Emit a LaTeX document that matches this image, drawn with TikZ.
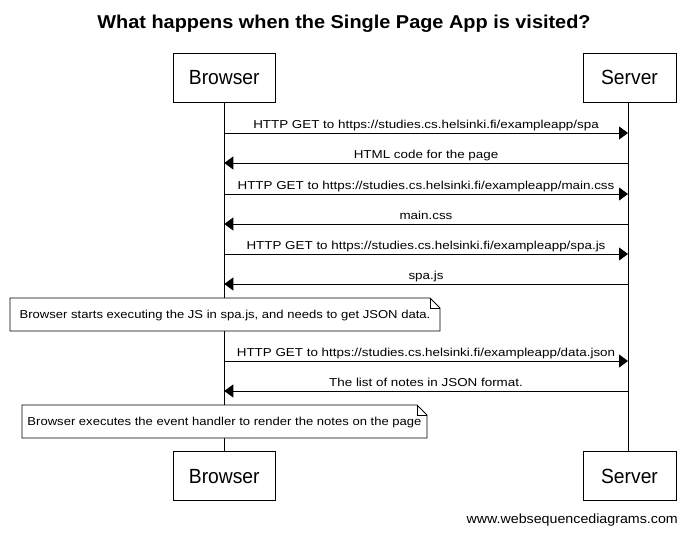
\documentclass[tikz,border=0pt]{standalone}
\usepackage{fontspec}
\setmainfont{Liberation Sans}
\newfontfamily\msgfont[FakeStretch=1.165]{Liberation Sans}
\newfontfamily\notefont[FakeStretch=1.135]{Liberation Sans}
\newfontfamily\actorfont[FakeStretch=0.94]{Liberation Sans}
\newfontfamily\titlefont[FakeStretch=1.07]{Liberation Sans}
\newfontfamily\footfont[FakeStretch=1.07]{Liberation Sans}
\usetikzlibrary{arrows.meta}
\tikzset{
  actor/.style={draw, line width=0.9pt, fill=white, minimum height=49pt, inner sep=0pt},
  actorlabel/.style={anchor=base, inner sep=0pt, font=\actorfont\fontsize{20.5}{22}\selectfont},
  lifeline/.style={line width=0.9pt},
  msg/.style={line width=0.9pt, -{Triangle[length=9pt,width=13pt]}},
  msglabel/.style={anchor=base, inner sep=0pt, font=\msgfont\fontsize{11.5}{14}\selectfont},
  notetext/.style={anchor=base, inner sep=0pt, font=\notefont\fontsize{11.5}{14}\selectfont},
  notebox/.style={draw, line width=0.9pt, fill=white},
}
\begin{document}
\begin{tikzpicture}[x=1pt,y=-1pt]
\useasboundingbox (0,0) rectangle (687,534);
% title
\node[anchor=base, inner sep=0pt, font=\titlefont\bfseries\fontsize{18.6}{22}\selectfont] (title) at (344,28.3) {What happens when the Single Page App is visited?};
% participants
\node[actor, minimum width=102pt] (b1) at (224.3,77.5) {};
\node[actorlabel] (b1t) at (224.3,84.8) {Browser};
\node[actor, minimum width=93pt] (s1) at (629.5,77.5) {};
\node[actorlabel] (s1t) at (629.5,84.8) {Server};
\node[actor, minimum width=102pt] (b2) at (224.3,476) {};
\node[actorlabel] (b2t) at (224.3,483.3) {Browser};
\node[actor, minimum width=93pt] (s2) at (629.5,476) {};
\node[actorlabel] (s2t) at (629.5,483.3) {Server};
% lifelines
\draw[lifeline] (b1) -- (b2);
\draw[lifeline] (s1.south -| 628,0) coordinate (sl1) -- (s2.north -| 628,0) coordinate (sl2);
% messages
\foreach \i/\y in {1/133,2/163,3/194,4/224,5/254,6/284,7/361,8/391}{
  \coordinate (mb\i) at (224.3,\y);
  \coordinate (ms\i) at (628,\y);
}
\draw[msg] (mb1) -- (ms1);
\node[msglabel] (l1) at (426,128.5) {HTTP GET to https://studies.cs.helsinki.fi/exampleapp/spa};
\draw[msg] (ms2) -- (mb2);
\node[msglabel] (l2) at (426,158.5) {HTML code for the page};
\draw[msg] (mb3) -- (ms3);
\node[msglabel] (l3) at (426,189.5) {HTTP GET to https://studies.cs.helsinki.fi/exampleapp/main.css};
\draw[msg] (ms4) -- (mb4);
\node[msglabel] (l4) at (426,219.5) {main.css};
\draw[msg] (mb5) -- (ms5);
\node[msglabel] (l5) at (426,249.5) {HTTP GET to https://studies.cs.helsinki.fi/exampleapp/spa.js};
\draw[msg] (ms6) -- (mb6);
\node[msglabel] (l6) at (426,279.5) {spa.js};
\draw[msg] (mb7) -- (ms7);
\node[msglabel] (l7) at (426,356.5) {HTTP GET to https://studies.cs.helsinki.fi/exampleapp/data.json};
\draw[msg] (ms8) -- (mb8);
\node[msglabel] (l8) at (426,386.5) {The list of notes in JSON format.};
% notes
\draw[notebox] (10,298) -- (430,298) -- (440,308) -- (440,331) -- (10,331) -- cycle;
\draw[line width=0.9pt] (430,298) -- (430,308) -- (440,308);
\node[notetext] (n1) at (225,318.3) {Browser starts executing the JS in spa.js, and needs to get JSON data.};
\draw[notebox] (22,405) -- (417,405) -- (427,415) -- (427,438) -- (22,438) -- cycle;
\draw[line width=0.9pt] (417,405) -- (417,415) -- (427,415);
\node[notetext] (n2) at (224.5,425.3) {Browser executes the event handler to render the notes on the page};
% footer
\node[anchor=base east, inner sep=0pt, font=\footfont\fontsize{13.3}{15}\selectfont] (footer) at (678,523) {www.websequencediagrams.com};
\end{tikzpicture}
\end{document}
